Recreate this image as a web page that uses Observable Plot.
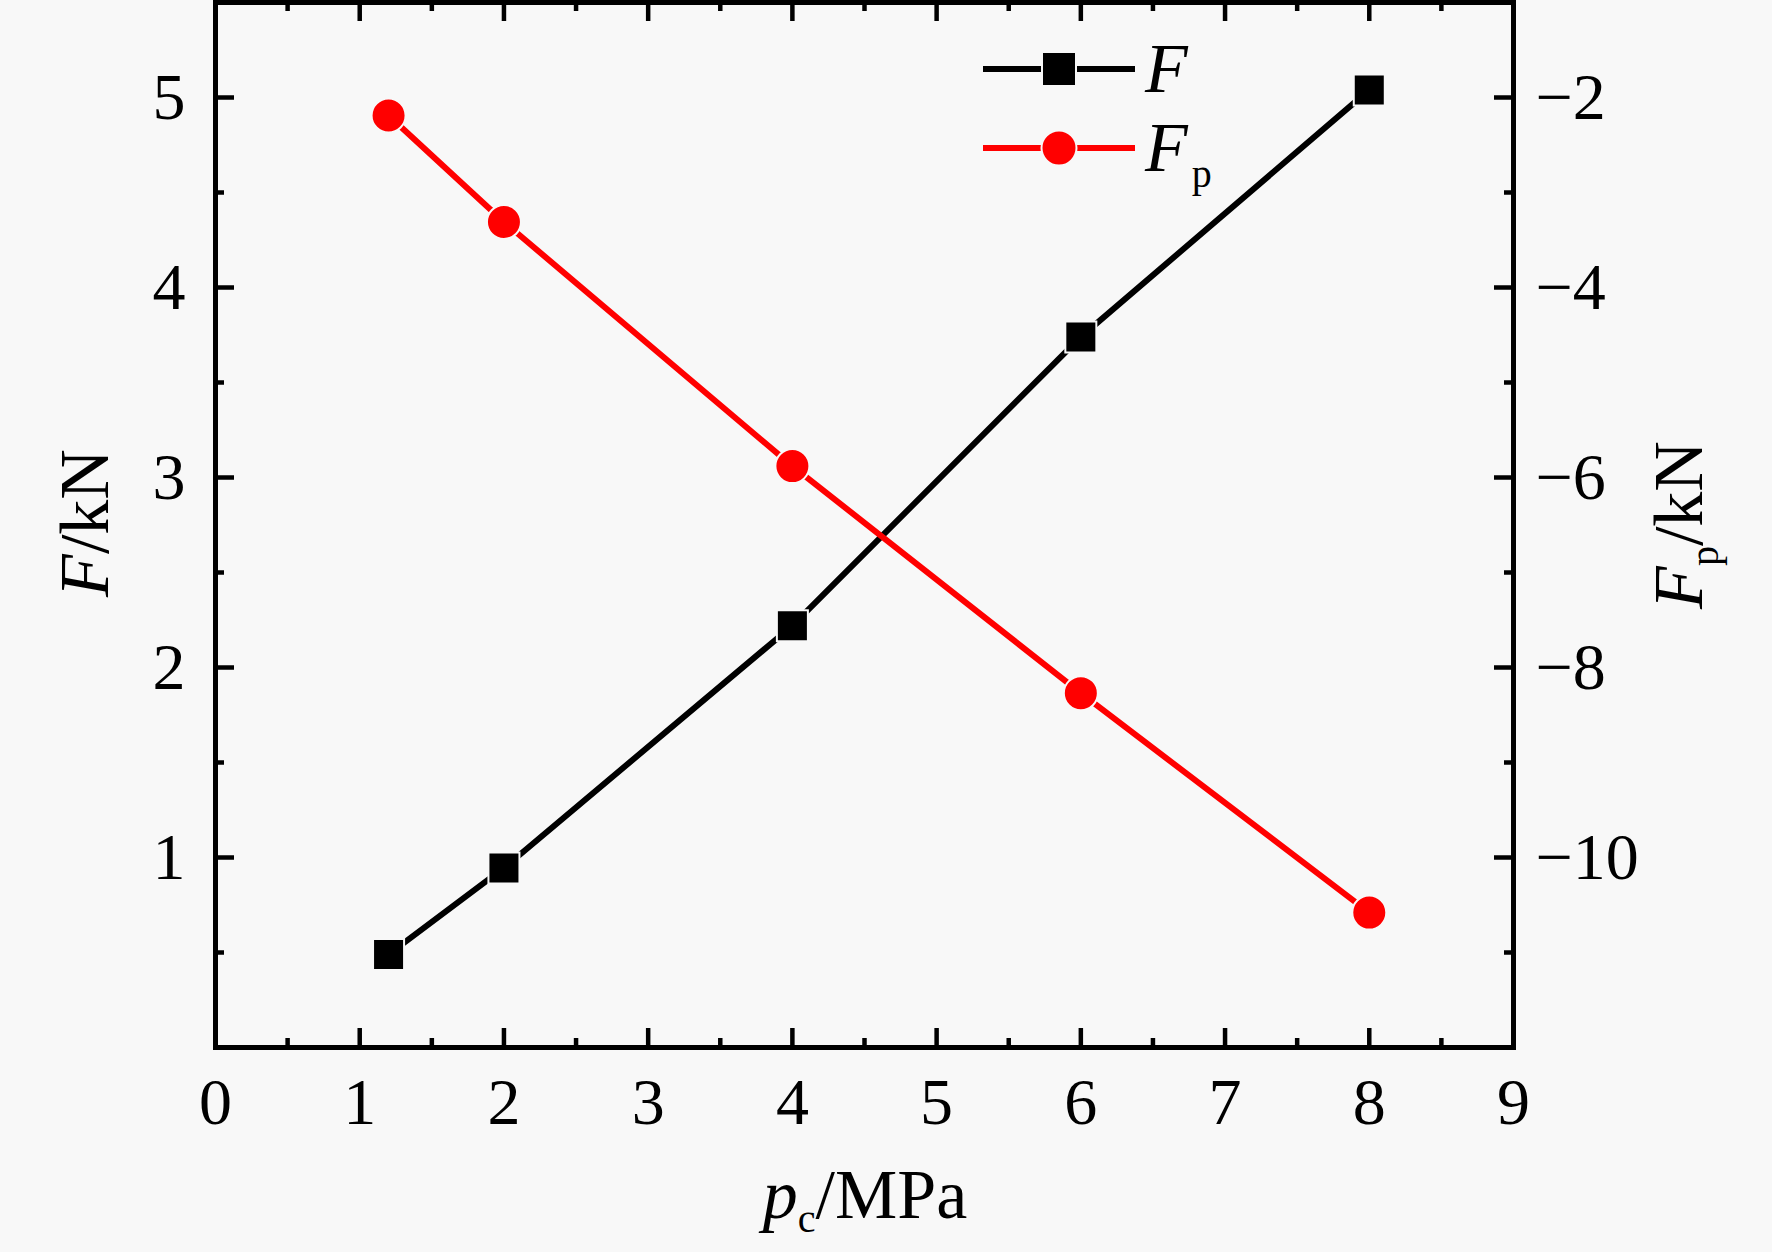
<!DOCTYPE html>
<html>
<head>
<meta charset="utf-8">
<script src="https://cdn.jsdelivr.net/npm/d3@7"></script>
<script src="https://cdn.jsdelivr.net/npm/@observablehq/plot@0.6"></script>
<style>
  html, body { margin: 0; padding: 0; background: #f8f8f8; }
  #chart { width: 1772px; height: 1252px; }
</style>
</head>
<body>
<div id="chart"></div>
<script>
// ---- data ----
const pc = [1.2, 2, 4, 6, 8];                 // p_c / MPa
const F  = [0.49, 0.945, 2.22, 3.74, 5.04];    // F / kN (left axis)
const Fp = [-2.19, -3.31, -5.88, -8.27, -10.58]; // F_p / kN (right axis)

const xMajor = [0, 1, 2, 3, 4, 5, 6, 7, 8, 9];
const xMinor = [0.5, 1.5, 2.5, 3.5, 4.5, 5.5, 6.5, 7.5, 8.5];
const yMajor = [1, 2, 3, 4, 5];
const yMinor = [0.5, 1.5, 2.5, 3.5, 4.5];
const fpMajor = [-2, -4, -6, -8, -10];
const fpMinor = [-3, -5, -7, -9, -11];

const xDomain = [0, 9];
const yDomain = [0, 5.5];
const fpDomain = [-12, -1];

// secondary (right) axis mapped onto the left y scale
const toLeft = v => yDomain[0] + (v - fpDomain[0]) / (fpDomain[1] - fpDomain[0]) * (yDomain[1] - yDomain[0]);
const fromLeft = y => fpDomain[0] + (y - yDomain[0]) / (yDomain[1] - yDomain[0]) * (fpDomain[1] - fpDomain[0]);

const rowsF = pc.map((x, i) => ({x, v: F[i]}));
const rowsFp = pc.map((x, i) => ({x, v: Fp[i]}));

// ---- layout ----
const W = 1772, H = 1252;
const mL = 215, mR = 259, mT = 2, mB = 205;
const pw = W - mL - mR, ph = H - mT - mB;
const majorLen = 19, minorLen = 9;
const tickW = 4.5;
const fmt = d3.format("d");
const serif = "'Liberation Serif', 'Times New Roman', serif";

const chart = Plot.plot({
  width: W, height: H,
  marginLeft: mL, marginRight: mR, marginTop: mT, marginBottom: mB,
  style: {fontFamily: serif, fontSize: "66px", background: "#f8f8f8", color: "#000", overflow: "visible"},
  x: {domain: xDomain},
  y: {domain: yDomain},
  marks: [
    // tick labels
    Plot.axisX(xMajor, {tickSize: 0, tickPadding: 30, label: null, fontSize: 66, tickFormat: fmt}),
    Plot.axisY(yMajor, {anchor: "left", tickSize: 0, tickPadding: 30, label: null, fontSize: 66, tickFormat: fmt}),
    Plot.axisY(fpMajor.map(toLeft), {anchor: "right", tickSize: 0, tickPadding: 22, label: null, fontSize: 66,
      tickFormat: d => fmt(Math.round(fromLeft(d)))}),
    // inward ticks: bottom & top
    Plot.tickX(xMajor, {x: d => d, insetTop: ph - majorLen, stroke: "#000", strokeWidth: tickW}),
    Plot.tickX(xMinor, {x: d => d, insetTop: ph - minorLen, stroke: "#000", strokeWidth: tickW}),
    Plot.tickX(xMajor, {x: d => d, insetBottom: ph - majorLen, stroke: "#000", strokeWidth: tickW}),
    Plot.tickX(xMinor, {x: d => d, insetBottom: ph - minorLen, stroke: "#000", strokeWidth: tickW}),
    // inward ticks: left
    Plot.tickY(yMajor, {y: d => d, insetRight: pw - majorLen, stroke: "#000", strokeWidth: tickW}),
    Plot.tickY(yMinor, {y: d => d, insetRight: pw - minorLen, stroke: "#000", strokeWidth: tickW}),
    // inward ticks: right
    Plot.tickY(fpMajor, {y: toLeft, insetLeft: pw - majorLen, stroke: "#000", strokeWidth: tickW}),
    Plot.tickY(fpMinor, {y: toLeft, insetLeft: pw - minorLen, stroke: "#000", strokeWidth: tickW}),
    Plot.frame({stroke: "#000", strokeWidth: 5}),
    // series
    Plot.line(rowsF, {x: "x", y: "v", stroke: "#000", strokeWidth: 6}),
    Plot.line(rowsFp, {x: "x", y: d => toLeft(d.v), stroke: "#ff0000", strokeWidth: 6}),
    Plot.dot(rowsF, {x: "x", y: "v", symbol: "square", r: 17.5, fill: "#000", stroke: "#f8f8f8", strokeWidth: 2}),
    Plot.dot(rowsFp, {x: "x", y: d => toLeft(d.v), symbol: "circle", r: 17, fill: "#ff0000", stroke: "#f8f8f8", strokeWidth: 2})
  ]
});

document.getElementById("chart").appendChild(chart);

// ---- axis titles and legend ----
const svg = d3.select(chart);

// left title: F/kN
const lt = svg.append("text")
  .attr("transform", "translate(108,523) rotate(-90)")
  .attr("text-anchor", "middle").attr("font-family", serif).attr("font-size", 70).attr("fill", "#000");
lt.append("tspan").attr("font-style", "italic").text("F");
lt.append("tspan").text("/kN");

// right title: Fp/kN
const rt = svg.append("text")
  .attr("transform", "translate(1702,525) rotate(-90)")
  .attr("text-anchor", "middle").attr("font-family", serif).attr("font-size", 70).attr("fill", "#000");
rt.append("tspan").attr("font-style", "italic").text("F");
rt.append("tspan").attr("font-size", 40).attr("dy", 16).text("p");
rt.append("tspan").attr("dy", -16).text("/kN");

// bottom title: pc/MPa
const bt = svg.append("text")
  .attr("x", 865).attr("y", 1218)
  .attr("text-anchor", "middle").attr("font-family", serif).attr("font-size", 70).attr("fill", "#000");
bt.append("tspan").attr("font-style", "italic").text("p");
bt.append("tspan").attr("font-size", 40).attr("dy", 14).text("c");
bt.append("tspan").attr("dy", -14).text("/MPa");

// legend
const legendItems = [
  {name: "F", sub: "", color: "#000", symbol: "square"},
  {name: "F", sub: "p", color: "#ff0000", symbol: "circle"}
];
const lg = svg.append("g");
legendItems.forEach((it, i) => {
  const y = 69 + i * 79;
  const g = lg.append("g").attr("transform", `translate(0,${y})`);
  g.append("line").attr("x1", 983).attr("x2", 1135).attr("y1", 0).attr("y2", 0)
    .attr("stroke", it.color).attr("stroke-width", 6);
  if (it.symbol === "square") {
    g.append("rect").attr("x", 1059 - 17).attr("y", -17).attr("width", 34).attr("height", 34).attr("fill", it.color)
      .attr("stroke", "#f8f8f8").attr("stroke-width", 2);
  } else {
    g.append("circle").attr("cx", 1059).attr("cy", 0).attr("r", 17.5).attr("fill", it.color)
      .attr("stroke", "#f8f8f8").attr("stroke-width", 2);
  }
  const t = g.append("text").attr("x", 1145).attr("y", 23).attr("text-anchor", "start")
    .attr("font-family", serif).attr("font-size", 70).attr("fill", "#000");
  t.append("tspan").attr("font-style", "italic").text(it.name);
  if (it.sub) t.append("tspan").attr("font-size", 40).attr("dy", 16).attr("dx", 4).text(it.sub);
});
</script>
</body>
</html>
